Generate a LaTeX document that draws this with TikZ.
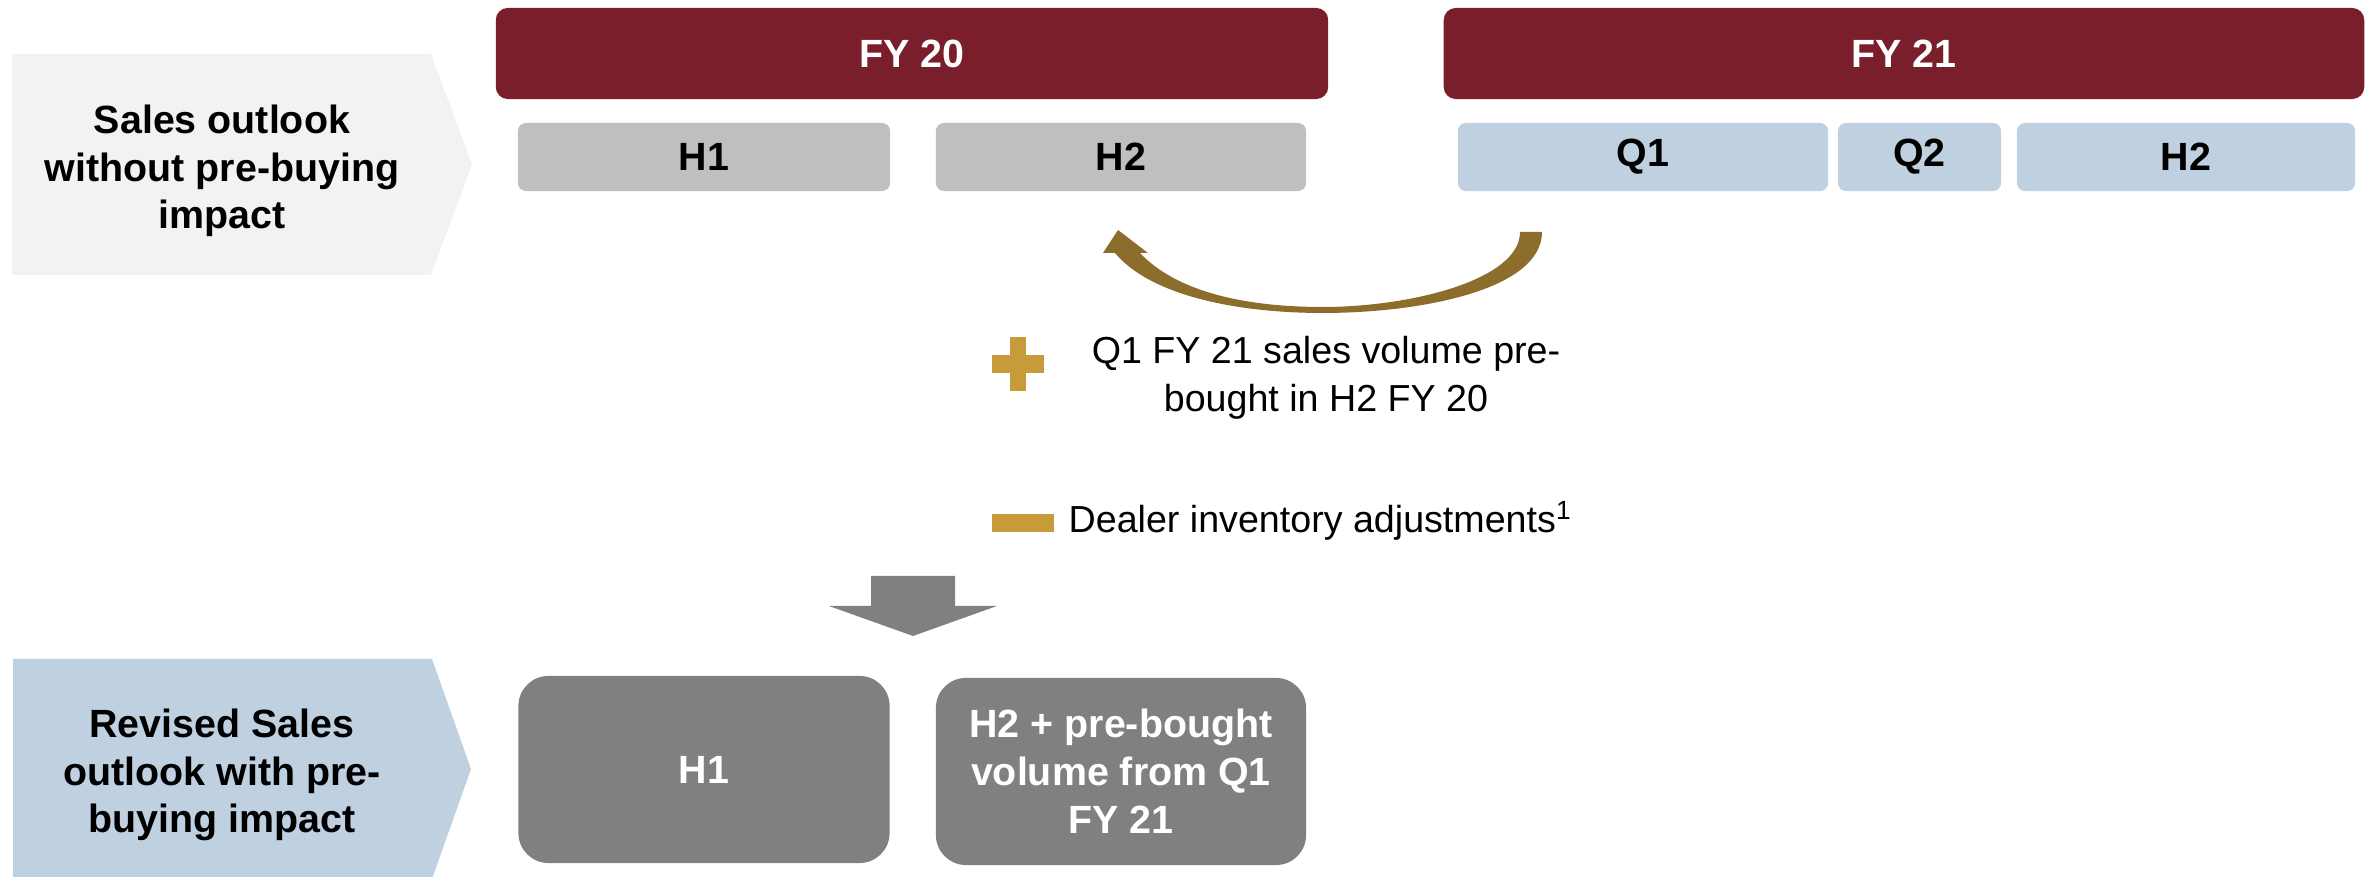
\documentclass[tikz,border=0pt]{standalone}
\usepackage{fontspec}
\setmainfont{Liberation Sans}
\definecolor{maroon}{HTML}{7B1E2B}
\definecolor{palegrey}{HTML}{F2F2F2}
\definecolor{midgrey}{HTML}{BFBFBF}
\definecolor{paleblue}{HTML}{BFD0E0}
\definecolor{darkgrey}{HTML}{808080}
\definecolor{gold}{HTML}{C89B3A}
\definecolor{arrowgold}{HTML}{8C6D2B}
\begin{document}
\begin{tikzpicture}[x=0.01cm,y=-0.01cm,
  basefont/.style={font=\fontsize{10.7}{13.6}\selectfont},
  boldfont/.style={font=\fontsize{11.2}{13.6}\selectfont\bfseries},
  fybox/.style={boldfont, fill=maroon, text=white, rounded corners=0.12cm,
    minimum height=0.91cm, inner sep=0},
  greybox/.style={boldfont, fill=midgrey, text=black, rounded corners=0.08cm,
    minimum height=0.68cm, inner sep=0},
  bluebox/.style={boldfont, fill=paleblue, text=black, rounded corners=0.08cm,
    minimum height=0.68cm, inner sep=0},
  resultbox/.style={boldfont, fill=darkgrey, text=white, rounded corners=0.3cm,
    minimum height=1.87cm, minimum width=3.71cm, inner sep=0, align=center},
  labeltext/.style={boldfont, align=center, text=black},
  notetext/.style={basefont, text=black}
]
\useasboundingbox (0,0) rectangle (2371,877);

% row labels (pentagons)
\fill[palegrey] (12,54) -- (431,54) -- (472,164.5) -- (431,275) -- (12,275) -- cycle;
\node[labeltext] (lab1) at (222,171) {Sales outlook\\without pre-buying\\impact};
\fill[paleblue] (13,659) -- (432,659) -- (471,769) -- (432,879) -- (13,879) -- cycle;
\node[labeltext] (lab2) at (222,775) {Revised Sales\\outlook with pre-\\buying impact};

% fiscal year headers
\node[fybox, minimum width=8.32cm] (fy20) at (912,53.5) {FY 20};
\node[fybox, minimum width=9.20cm] (fy21) at (1904,53.5) {FY 21};

% periods
\node[greybox, minimum width=3.72cm] (h1a) at (704,157) {H1};
\node[greybox, minimum width=3.70cm] (h2a) at (1121,157) {H2};
\node[bluebox, minimum width=3.70cm] (q1) at (1643,157) {Q1};
\node[bluebox, minimum width=1.63cm] (q2) at (1919.5,157) {Q2};
\node[bluebox, minimum width=3.38cm] (h2b) at (2186,157) {H2};

% curved arrow from Q1 back to H2
\fill[arrowgold] (1118,230) -- (1148,253) -- (1140,253)
  .. controls (1175,290) and (1240,307) .. (1323,307)
  .. controls (1410,307) and (1520,280) .. (1520,232)
  -- (1542,232)
  .. controls (1542,290) and (1420,313) .. (1323,313)
  .. controls (1235,313) and (1150,295) .. (1115,253)
  -- (1103,253) -- cycle;

% plus item
\fill[gold] (1010,337) rectangle (1026,391);
\fill[gold] (992,355) rectangle (1044,373);
\node[notetext, align=center] (plusnote) at (1326,378) {Q1 FY 21 sales volume pre-\\bought in H2 FY 20};

% minus item
\fill[gold] (992,514) rectangle (1054,532);
\node[notetext, anchor=base west, inner sep=0] (minusnote) at (1068,533) {Dealer inventory adjustments\textsuperscript{1}};

% down arrow
\fill[darkgrey] (871,576) -- (955,576) -- (955,606) -- (997,606) -- (913,636)
  -- (829,606) -- (871,606) -- cycle;

% revised outlook
\node[resultbox] (h1c) at (704,769.5) {H1};
\node[resultbox, minimum width=3.70cm] (h2c) at (1121,771.5) {H2 + pre-bought\\volume from Q1\\FY 21};
\end{tikzpicture}
\end{document}
